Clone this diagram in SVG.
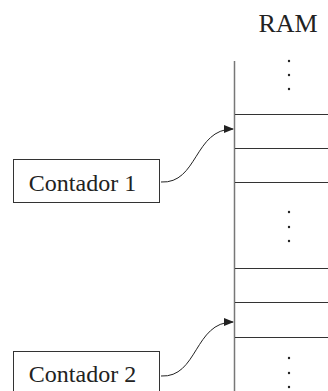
<svg xmlns="http://www.w3.org/2000/svg" width="328" height="391" viewBox="0 0 328 391">
<style>
.t{font-family:"Liberation Serif","Times New Roman",serif;fill:#222}
.box{fill:#fff;stroke:#333;stroke-width:1}
.row{stroke:#333;stroke-width:1}
.dot{fill:#222}
.conn{fill:none;stroke:#222;stroke-width:1}
</style>
<defs>
<marker id="ah" markerWidth="10" markerHeight="8" refX="9" refY="4" orient="auto" markerUnits="userSpaceOnUse">
<path d="M0,0 L10,4 L0,8 Z" fill="#222"/>
</marker>
</defs>
<g id="ram">
<text class="t" x="288" y="32" font-size="26" text-anchor="middle">RAM</text>
<line x1="234.5" y1="61" x2="234.5" y2="391" stroke="#777" stroke-width="1.5"/>
<line class="row" x1="235" y1="114.5" x2="328" y2="114.5"/>
<line class="row" x1="235" y1="148.5" x2="328" y2="148.5"/>
<line class="row" x1="235" y1="182.5" x2="328" y2="182.5"/>
<line class="row" x1="235" y1="268.5" x2="328" y2="268.5"/>
<line class="row" x1="235" y1="302.5" x2="328" y2="302.5"/>
<line class="row" x1="235" y1="337.5" x2="328" y2="337.5"/>
<circle class="dot" cx="289" cy="61" r="1.2"/>
<circle class="dot" cx="289" cy="75" r="1.2"/>
<circle class="dot" cx="289" cy="89" r="1.2"/>
<circle class="dot" cx="289" cy="212" r="1.2"/>
<circle class="dot" cx="289" cy="227" r="1.2"/>
<circle class="dot" cx="289" cy="241" r="1.2"/>
<circle class="dot" cx="289" cy="358" r="1.2"/>
<circle class="dot" cx="289" cy="373" r="1.2"/>
<circle class="dot" cx="289" cy="387" r="1.2"/>
</g>
<g id="contador1">
<rect class="box" x="13.5" y="159.5" width="146" height="43"/>
<text class="t" x="82.5" y="190.5" font-size="24" text-anchor="middle">Contador 1</text>
</g>
<g id="contador2">
<rect class="box" x="13.5" y="351.5" width="146" height="50"/>
<text class="t" x="82.5" y="381.5" font-size="24" text-anchor="middle">Contador 2</text>
</g>
<g id="connectors">
<path class="conn" d="M161,182 C198,184 194,129 233,129" marker-end="url(#ah)"/>
<path class="conn" d="M161,376 C198,378 194,322 233,322" marker-end="url(#ah)"/>
</g>
</svg>
